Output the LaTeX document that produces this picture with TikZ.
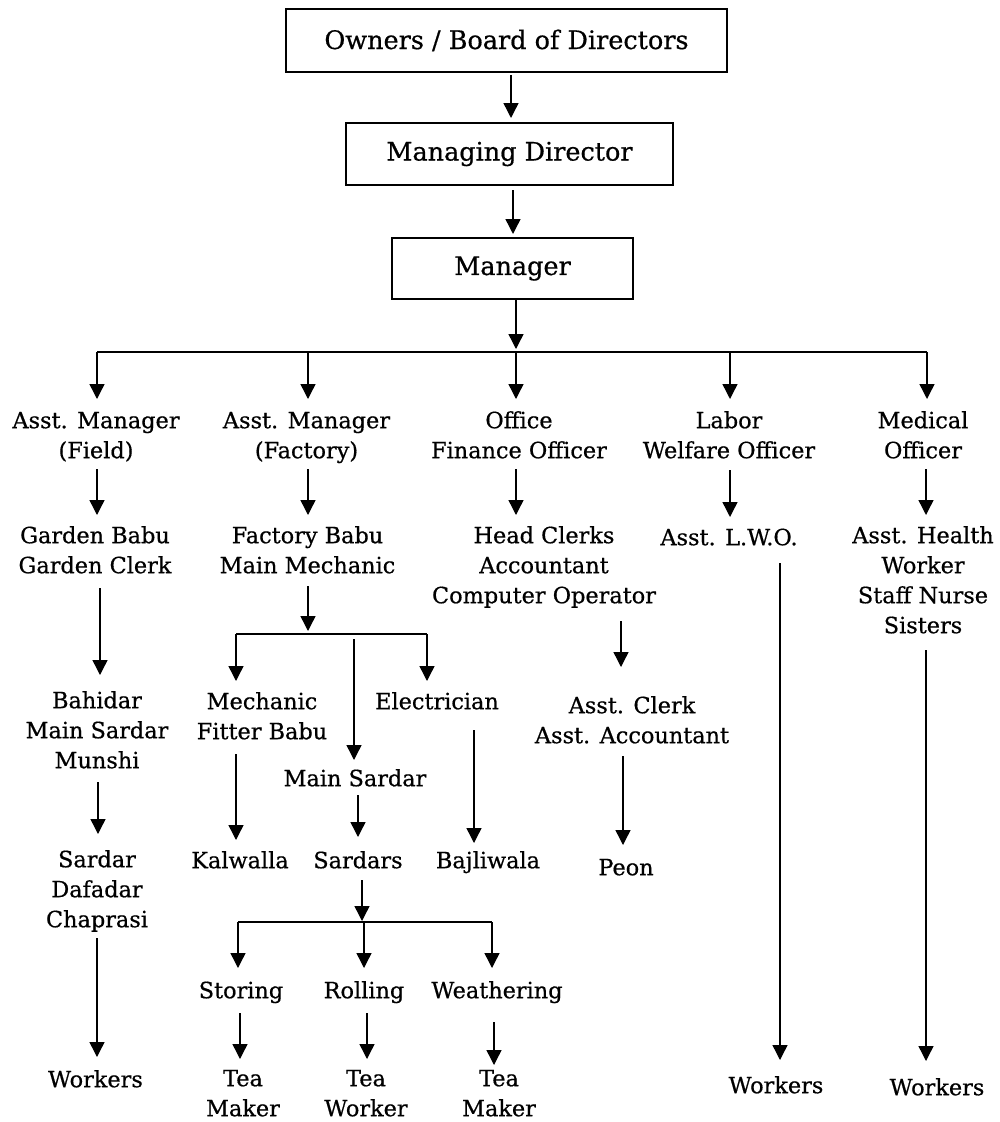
\documentclass[tikz,border=0pt]{standalone}
\usepackage{fontspec}
\setmainfont[FakeBold=0.6]{DejaVu Serif}
\usetikzlibrary{arrows.meta}

% fixed line height so that node borders sit at the same place for every label
\newcommand\lnstrut{\rule[-9pt]{0pt}{30pt}}
\newcommand\bodyfont{\fontsize{22.4}{30}\selectfont}
\newcommand\boxfont{\fontsize{25.5}{30}\selectfont}
% vertical connector: from node #1 to node #2, x offset #3, start gap #4, end gap #5
\newcommand\vconn[5]{\draw[arr] ([xshift=#3pt,yshift=-#4pt]#1.south) -- ([xshift=#3pt,yshift=#5pt]#2.north -| #1.south);}

\begin{document}
\begin{tikzpicture}[x=1pt,y=-1pt,
  arr/.style={line width=1.4pt,-{Triangle[length=15pt,width=15pt]}},
  bus/.style={line width=1.4pt},
  rank/.style={draw,line width=2pt,inner sep=0pt,font=\boxfont,anchor=center},
  txt/.style={font=\bodyfont,align=center,inner sep=0pt,anchor=north,
    execute at end node=\lnstrut}]
\useasboundingbox (0,0) rectangle (1000,1122);
\fill[white] (0,0) rectangle (1000,1122);

% top of the hierarchy
\node[rank,minimum width=441pt,minimum height=63pt] (own) at (506.5,40.5) {Owners / Board of Directors};
\node[rank,minimum width=327pt,minimum height=62pt] (md) at (509.5,154) {Managing Director};
\node[rank,minimum width=241pt,minimum height=61pt] (mgr) at (512.5,268.5) {Manager};
\draw[arr] ([xshift=4.5pt,yshift=-2pt]own.south) -- ([xshift=4.5pt,yshift=4pt]md.north -| own.south);
\draw[arr] ([xshift=3.5pt,yshift=-4pt]md.south) -- ([xshift=3.5pt,yshift=3pt]mgr.north -| md.south);

% branch line under the manager
\coordinate (b1) at (97,352);
\coordinate (b2) at (308,352);
\coordinate (b3) at (516,352);
\coordinate (b4) at (730,352);
\coordinate (b5) at (927,352);
\draw[arr] (mgr.south -| b3) -- ([yshift=3pt]b3);
\draw[bus] (b1) -- (b5);

% department heads
\node[txt] (amf) at (96,407) {\lnstrut Asst. Manager\\(Field)};
\node[txt] (amy) at (306.5,407) {\lnstrut Asst. Manager\\(Factory)};
\node[txt] (off) at (519,407) {\lnstrut Office\\Finance Officer};
\node[txt] (lab) at (729,407) {\lnstrut Labor\\Welfare Officer};
\node[txt] (med) at (923,407) {\lnstrut Medical\\Officer};
\foreach \b/\n in {b1/amf,b2/amy,b3/off,b4/lab,b5/med}
  \draw[arr] (\b) -- ([yshift=8pt]\n.north -| \b);

% second level
\node[txt] (gb) at (95,522) {\lnstrut Garden Babu\\Garden Clerk};
\node[txt] (fb) at (307.5,522) {\lnstrut Factory Babu\\Main Mechanic};
\node[txt] (hc) at (544,522) {\lnstrut Head Clerks\\Accountant\\Computer Operator};
\node[txt] (lwo) at (729,524) {\lnstrut Asst. L.W.O.};
\node[txt] (ahw) at (923,522) {\lnstrut Asst. Health\\Worker\\Staff Nurse\\Sisters};
\vconn{amf}{gb}{1}{2}{7}
\vconn{amy}{fb}{1.5}{2}{7}
\vconn{off}{hc}{-3}{2}{7}
\vconn{lab}{lwo}{1}{3}{7}
\vconn{med}{ahw}{3}{2}{7}

% field branch
\node[txt] (bah) at (97,687) {\lnstrut Bahidar\\Main Sardar\\Munshi};
\node[txt] (sar) at (97,846) {\lnstrut Sardar\\Dafadar\\Chaprasi};
\node[txt] (wk1) at (95.5,1066) {\lnstrut Workers};
\vconn{gb}{bah}{5}{6}{12}
\vconn{bah}{sar}{1}{5}{12}
\vconn{sar}{wk1}{0}{2}{9}

% factory branch
\coordinate (fm) at (308,634);
\coordinate (f1) at (236,634);
\coordinate (f2) at (427,634);
\coordinate (fmid) at (354,639);
\draw[arr] ([xshift=0.5pt,yshift=-4pt]fb.south) -- ([yshift=3pt]fm);
\draw[bus] (f1) -- (f2);
\node[txt] (mech) at (262,688) {\lnstrut Mechanic\\Fitter Babu};
\node[txt] (elec) at (437,688) {\lnstrut Electrician};
\node[txt] (msd) at (355,765) {\lnstrut Main Sardar};
\draw[arr] (f1) -- ([yshift=7pt]mech.north -| f1);
\draw[arr] (f2) -- ([yshift=7pt]elec.north -| f2);
\draw[arr] (fmid) -- ([yshift=5pt]msd.north -| fmid);

\node[txt] (kal) at (240,847) {\lnstrut Kalwalla};
\node[txt] (sds) at (358,847) {\lnstrut Sardars};
\node[txt] (baj) at (488,847) {\lnstrut Bajliwala};
\vconn{mech}{kal}{-26}{6}{7}
\vconn{elec}{baj}{37}{12}{4}
\vconn{msd}{sds}{3}{0}{10}

\coordinate (sm) at (362,922);
\coordinate (s1) at (238,922);
\coordinate (s2) at (364,922);
\coordinate (s3) at (492,922);
\draw[arr] ([xshift=4pt,yshift=-3pt]sds.south) -- ([yshift=1pt]sm);
\draw[bus] (s1) -- (s3);
\node[txt] (sto) at (241,977) {\lnstrut Storing};
\node[txt] (rol) at (364,977) {\lnstrut Rolling};
\node[txt] (wea) at (497,977) {\lnstrut Weathering};
\draw[arr] (s1) -- ([yshift=9pt]sto.north -| s1);
\draw[arr] (s2) -- ([yshift=9pt]rol.north -| s2);
\draw[arr] (s3) -- ([yshift=9pt]wea.north -| s3);

\node[txt] (tm1) at (243,1065) {\lnstrut Tea\\Maker};
\node[txt] (tw) at (366,1065) {\lnstrut Tea\\Worker};
\node[txt] (tm2) at (499,1065) {\lnstrut Tea\\Maker};
\vconn{sto}{tm1}{-1}{6}{6}
\vconn{rol}{tw}{3}{6}{6}
\vconn{wea}{tm2}{-3}{15}{0}

% office branch
\node[txt] (acl) at (632,692) {\lnstrut Asst. Clerk\\Asst. Accountant};
\node[txt] (peon) at (626,854) {\lnstrut Peon};
\vconn{hc}{acl}{77}{9}{25}
\vconn{acl}{peon}{-9}{4}{9}

% welfare and medical branches
\node[txt] (wk2) at (776,1072) {\lnstrut Workers};
\node[txt] (wk3) at (937,1074) {\lnstrut Workers};
\vconn{lwo}{wk2}{51}{9}{12}
\vconn{ahw}{wk3}{3}{8}{13}
\end{tikzpicture}
\end{document}
